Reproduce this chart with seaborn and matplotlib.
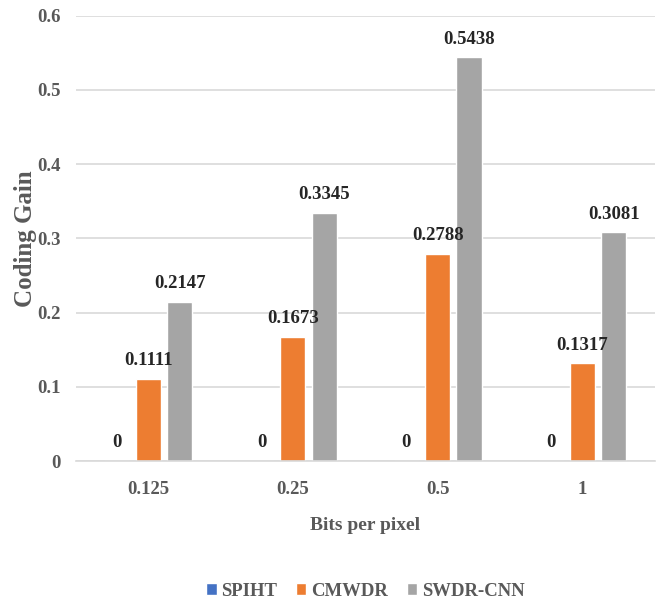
import pandas as pd
import seaborn as sns
import matplotlib.pyplot as plt

categories = ['0.125', '0.25', '0.5', '1']
spiht = [0, 0, 0, 0]
cmwdr = [0.1111, 0.1673, 0.2788, 0.1317]
swdr_cnn = [0.2147, 0.3345, 0.5438, 0.3081]
series = ['SPIHT', 'CMWDR', 'SWDR-CNN']
colors = ['#4472C4', '#ED7D31', '#A5A5A5']


def main():
    sns.set_style('white')
    plt.rcParams['font.family'] = ['Liberation Serif', 'DejaVu Serif']
    plt.rcParams['font.weight'] = 'bold'

    rows = []
    for name, vals in zip(series, [spiht, cmwdr, swdr_cnn]):
        for c, v in zip(categories, vals):
            rows.append({'Bits': c, 'Gain': v, 'Series': name})
    df = pd.DataFrame(rows)

    fig = plt.figure(figsize=(6.6, 6.06), dpi=100)
    ax = fig.add_axes([0.115, 0.239, 0.877, 0.735])
    sns.barplot(data=df, x='Bits', y='Gain', hue='Series', palette=colors,
                saturation=1, width=0.65, gap=0.2, ax=ax, legend=True)

    for cont in ax.containers:
        ax.bar_label(cont, labels=[f'{v:g}' if v else '0' for v in cont.datavalues],
                     padding=7, fontsize=13.5, fontweight='bold', color='#262626')

    ax.set_ylim(0, 0.6)
    ax.set_xlim(-0.5, 3.5)
    ax.set_yticks([0, 0.1, 0.2, 0.3, 0.4, 0.5, 0.6])
    ax.set_yticklabels(['0', '0.1', '0.2', '0.3', '0.4', '0.5', '0.6'])
    ax.yaxis.grid(True, color='#d9d9d9', linewidth=1.2)
    ax.set_axisbelow(True)
    for s in ['top', 'right', 'left']:
        ax.spines[s].set_visible(False)
    ax.spines['bottom'].set_color('#d9d9d9')
    ax.spines['bottom'].set_linewidth(1.2)
    ax.tick_params(axis='x', length=0, labelsize=13.5, labelcolor='#595959', pad=14)
    ax.tick_params(axis='y', length=0, labelsize=13.5, labelcolor='#595959', pad=11)

    ax.set_xlabel('Bits per pixel', fontsize=14, fontweight='bold', color='#595959', labelpad=14)
    ax.set_ylabel('Coding Gain', fontsize=18, fontweight='bold', color='#595959', labelpad=0)

    ax.legend(loc='center', bbox_to_anchor=(0.5, -0.292), ncol=3, frameon=False,
              fontsize=13.5, handlelength=0.55, handleheight=0.55, handletextpad=0.25,
              columnspacing=1.0, labelcolor='#595959')

    fig.savefig('out.png', dpi=100)


if __name__ == '__main__':
    main()
